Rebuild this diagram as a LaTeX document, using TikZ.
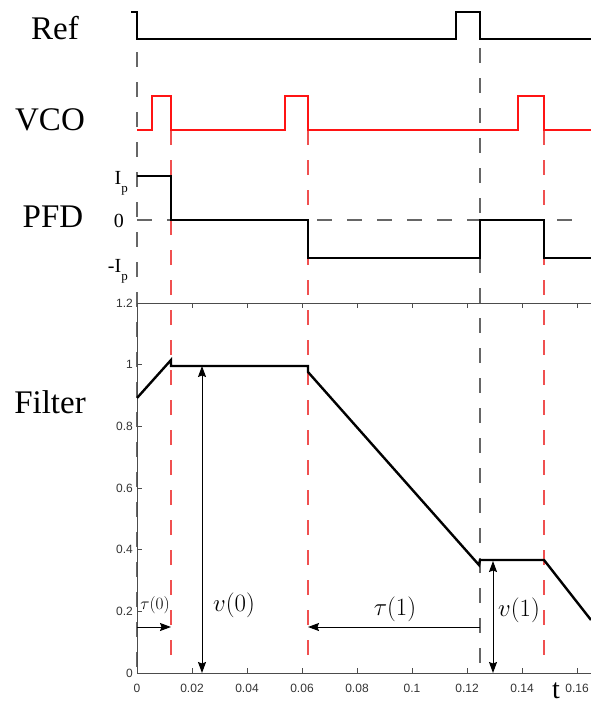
\documentclass[tikz,border=0pt]{standalone}
\usepackage{fontspec}
\setmainfont{Liberation Serif}
\newfontfamily\axfont{Liberation Sans}
\usetikzlibrary{arrows.meta}
\definecolor{dashred}{RGB}{240,80,80}
\definecolor{sigred}{RGB}{255,20,20}
\begin{document}
\begin{tikzpicture}[x=1pt,y=-1pt,
  sig/.style={line width=1.3pt,black},
  vco/.style={line width=1.3pt,color=sigred},
  filt/.style={line width=2.4pt,black,line join=miter},
  refdash/.style={line width=1.2pt,color=black!60,dash pattern=on 15pt off 15pt},
  reddash/.style={line width=1.1pt,color=dashred,dash pattern=on 15pt off 15pt},
  axisline/.style={line width=0.8pt,color=black!70},
  ticklab/.style={font=\axfont\fontsize{12}{12}\selectfont,text=black!80,inner sep=0pt},
  biglab/.style={font=\fontsize{33}{33}\selectfont,anchor=base,inner sep=0pt},
  pfdlab/.style={font=\fontsize{20}{20}\selectfont,anchor=base east,inner sep=0pt},
  dimline/.style={line width=1pt,black},
  tipend/.style={-{Stealth[length=11pt,width=8pt,inset=1.5pt]}},
  tipboth/.style={{Stealth[length=11pt,width=8pt,inset=1.5pt]}-{Stealth[length=11pt,width=8pt,inset=1.5pt]}},
  mathlab/.style={inner sep=0pt},
]
\useasboundingbox (0,0) rectangle (591,704);

% ---- row labels
\node[biglab] (lref) at (55,39) {Ref};
\node[biglab] (lvco) at (50,130) {VCO};
\node[biglab] (lpfd) at (53,227) {PFD};
\node[biglab] (lfil) at (50,413) {Filter};

% ---- PFD level labels
\node[pfdlab] (lip) at (128,184) {I\raisebox{-8pt}{\fontsize{13}{13}\selectfont p}};
\node[pfdlab] (lzero) at (124,227) {0};
\node[pfdlab] (lmip) at (128,272) {-I\raisebox{-8pt}{\fontsize{13}{13}\selectfont p}};

% ---- dashed marker lines
\draw[refdash] (137,22) -- (137,673);
\draw[refdash] (480,18) -- (480,673);
\draw[reddash] (171,130) -- (171,662);
\draw[reddash] (308,130) -- (308,662);
\draw[reddash] (544,130) -- (544,662);
\draw[refdash] (137,220) -- (578,220);

% ---- Ref signal
\draw[sig] (131,12) -- (137,12) -- (137,39) -- (456,39) -- (456,12) -- (480,12) -- (480,39) -- (591,39);

% ---- VCO signal
\draw[vco] (137,130) -- (152,130) -- (152,96) -- (171,96) -- (171,130) -- (285,130) -- (285,96)
  -- (308,96) -- (308,130) -- (518,130) -- (518,96) -- (544,96) -- (544,130) -- (591,130);

% ---- PFD signal
\draw[sig] (137,176) -- (171,176) -- (171,220) -- (308,220) -- (308,258) -- (480,258)
  -- (480,220) -- (544,220) -- (544,258) -- (591,258);

% ---- axes
\draw[axisline] (591,303) -- (137,303) -- (137,673) -- (591,673);
\foreach \i in {1,...,8} {
  \draw[axisline] (137+55*\i,673) -- (137+55*\i,668);
  \draw[axisline] (137+55*\i,303) -- (137+55*\i,308);
}
\foreach \i in {1,...,5} {
  \draw[axisline] (137,673-61.667*\i) -- (142,673-61.667*\i);
}
\foreach \v [count=\i from 0] in {0,0.02,0.04,0.06,0.08,0.1,0.12,0.14,0.16} {
  \node[ticklab] (bl\i) at (137+55*\i,688) {\v};
}
\foreach \v [count=\i from 0] in {0,0.2,0.4,0.6,0.8,1,1.2} {
  \node[ticklab,anchor=east] (ll\i) at (133,673-61.667*\i) {\v};
}

% ---- filter voltage
\draw[filt] (137,398) -- (171,360) -- (171,366) -- (308,366) -- (308,372) -- (479,565)
  -- (480,560) -- (544,560) -- (591,620);

% ---- annotations
\coordinate (a0s) at (137,627);
\coordinate (a0e) at (171,627);
\draw[dimline,tipend] (a0s) -- (a0e);
\node[mathlab] (tau0) at (155,605) {\fontsize{16}{16}\selectfont$\tau(0)$};

\coordinate (v0b) at (202,673);
\coordinate (v0t) at (202,366);
\draw[dimline,tipboth] (v0b) -- (v0t);
\node[mathlab] (v0lab) at (234,605) {\fontsize{24}{24}\selectfont$v(0)$};

\coordinate (a1s) at (480,627);
\coordinate (a1e) at (308,627);
\draw[dimline,tipend] (a1s) -- (a1e);
\node[mathlab] (tau1) at (395,609) {\fontsize{24}{24}\selectfont$\tau(1)$};

\coordinate (v1b) at (493,673);
\coordinate (v1t) at (493,561);
\draw[dimline,tipboth] (v1b) -- (v1t);
\node[mathlab] (v1lab) at (519,610) {\fontsize{24}{24}\selectfont$v(1)$};

\node[font=\fontsize{28}{28}\selectfont,anchor=base,inner sep=0pt] (tlab) at (556,698) {t};
\end{tikzpicture}
\end{document}
